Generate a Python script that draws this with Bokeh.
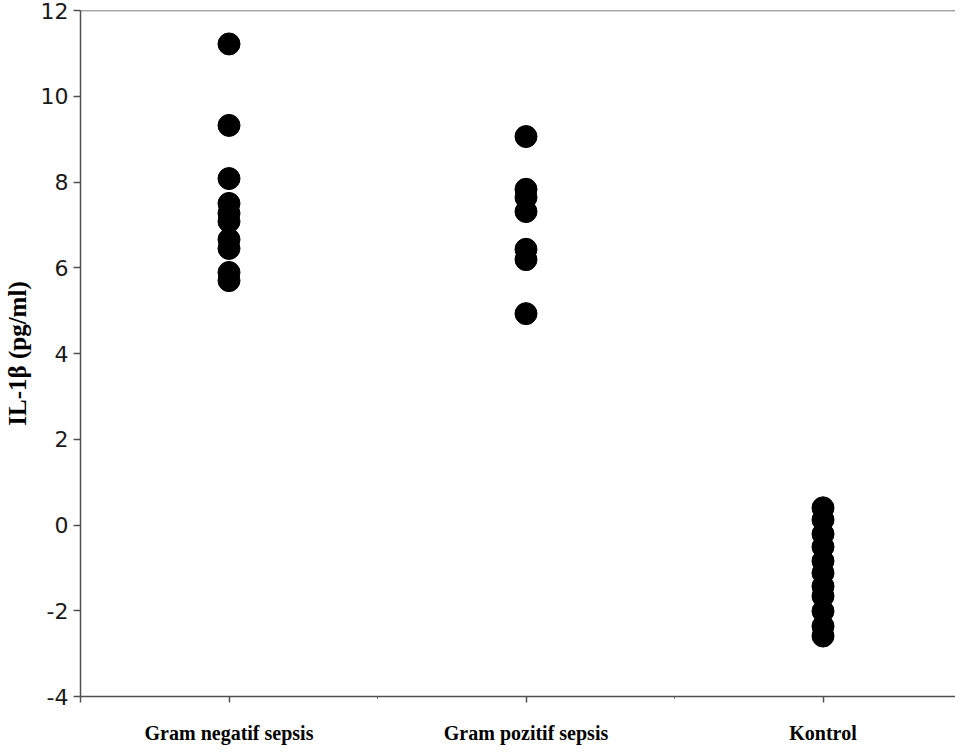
from bokeh.plotting import figure
from bokeh.models import FixedTicker, Range1d, Span, ColumnDataSource
from bokeh.embed import file_html
from bokeh.resources import INLINE

categories = ["Gram negatif sepsis", "Gram pozitif sepsis", "Kontrol"]
category_pos = [1, 2, 3]

gram_negatif = [11.22, 9.32, 8.08, 7.50, 7.27, 7.08, 6.66, 6.45, 5.89, 5.70]
gram_pozitif = [9.06, 7.83, 7.64, 7.31, 6.43, 6.19, 4.93]
kontrol = [0.40, 0.12, -0.21, -0.51, -0.84, -1.12, -1.43, -1.66, -2.01, -2.36, -2.59]

y_ticks = [-4, -2, 0, 2, 4, 6, 8, 10, 12]
y_label = "IL-1\u03b2 (pg/ml)"

xs, ys = [], []
for pos, vals in zip(category_pos, [gram_negatif, gram_pozitif, kontrol]):
    xs += [pos] * len(vals)
    ys += vals
src = ColumnDataSource(dict(x=xs, y=ys))

W, H = 955, 746
left, top, bottom = 80, 10, 49
px_per_cat = 297
p = figure(width=W, height=H, output_backend="svg", toolbar_location=None,
           x_range=Range1d(0.5, 0.5 + (W - left) / px_per_cat), y_range=Range1d(-4, 12),
           min_border_left=left, min_border_top=top, min_border_right=0, min_border_bottom=bottom)
p.outline_line_color = None
p.xgrid.visible = False
p.ygrid.visible = False
p.background_fill_color = "white"
p.border_fill_color = "white"

p.scatter("x", "y", source=src, size=22, marker="circle", fill_color="black", line_color="black")

axis_color = "#505050"
p.add_layout(Span(location=12, dimension="width", line_color=axis_color, line_width=1.5))

xa = p.xaxis[0]
xa.ticker = FixedTicker(ticks=[0.5] + category_pos, minor_ticks=[1.5, 2.5])
xa.major_label_overrides = {0.5: "", **{c: n for c, n in zip(category_pos, categories)}}
xa.axis_line_color = axis_color
xa.axis_line_width = 1.5
xa.major_tick_line_color = axis_color
xa.major_tick_line_width = 1.5
xa.major_tick_out = 6
xa.major_tick_in = 0
xa.minor_tick_line_color = axis_color
xa.minor_tick_out = 2
xa.minor_tick_in = 0
xa.major_label_text_font = "Liberation Serif"
xa.major_label_text_font_style = "bold"
xa.major_label_text_font_size = "20px"
xa.major_label_text_color = "black"
xa.major_label_standoff = 19

ya = p.yaxis[0]
ya.ticker = FixedTicker(ticks=y_ticks, minor_ticks=[])
ya.major_label_overrides = {t: str(t) for t in y_ticks}
ya.axis_line_color = axis_color
ya.axis_line_width = 1.5
ya.major_tick_line_color = axis_color
ya.major_tick_line_width = 1.5
ya.major_tick_out = 7
ya.major_tick_in = 0
ya.major_label_text_font = "DejaVu Sans"
ya.major_label_text_font_size = "22px"
ya.major_label_text_color = "#1a1a1a"
ya.major_label_standoff = 5
ya.axis_label = y_label
ya.axis_label_text_font = "Liberation Serif"
ya.axis_label_text_font_style = "bold"
ya.axis_label_text_font_size = "25px"
ya.axis_label_text_color = "black"
ya.axis_label_standoff = 7

open("out.html", "w").write(file_html(p, INLINE))
